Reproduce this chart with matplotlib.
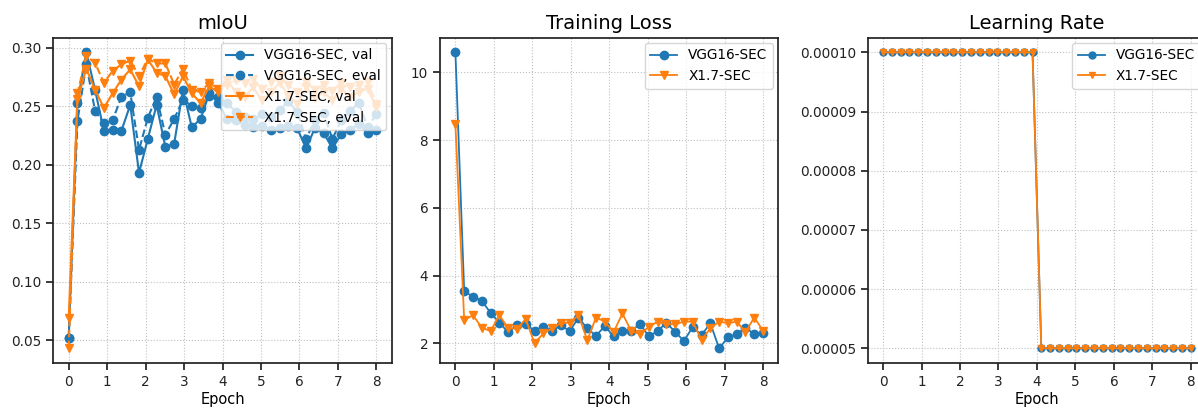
import numpy as np
import matplotlib
matplotlib.use('Agg')
import matplotlib.pyplot as plt

font = 9.8
linew = 1.5
frame = 1.25

n_pts = 36
epoch = np.linspace(0, 8, n_pts)

# mIoU
vgg_val = [0.052, 0.253, 0.296, 0.264, 0.229, 0.230, 0.229, 0.251, 0.193, 0.222,
           0.251, 0.215, 0.218, 0.264, 0.232, 0.239, 0.261, 0.253, 0.239, 0.238,
           0.234, 0.232, 0.233, 0.230, 0.231, 0.233, 0.231, 0.214, 0.231, 0.227,
           0.214, 0.226, 0.230, 0.235, 0.227, 0.230]
vgg_eval = [0.052, 0.2375, 0.2857, 0.246, 0.2355, 0.238, 0.258, 0.262, 0.2126, 0.240,
            0.258, 0.2255, 0.239, 0.2556, 0.250, 0.2485, 0.259, 0.258, 0.253, 0.245,
            0.241, 0.239, 0.243, 0.241, 0.247, 0.254, 0.245, 0.222, 0.238, 0.244,
            0.222, 0.238, 0.246, 0.253, 0.232, 0.243]
x17_val = [0.069, 0.256, 0.282, 0.264, 0.2485, 0.261, 0.2727, 0.2814, 0.267, 0.290,
           0.2785, 0.2756, 0.260, 0.2756, 0.261, 0.2527, 0.267, 0.262, 0.2727, 0.262,
           0.258, 0.266, 0.255, 0.262, 0.270, 0.259, 0.252, 0.266, 0.257, 0.262,
           0.255, 0.265, 0.258, 0.262, 0.265, 0.249]
x17_eval = [0.043, 0.261, 0.2928, 0.287, 0.270, 0.280, 0.2857, 0.289, 0.2756, 0.2905,
            0.2865, 0.2865, 0.2685, 0.282, 0.264, 0.262, 0.270, 0.265, 0.268, 0.272,
            0.270, 0.273, 0.265, 0.271, 0.276, 0.268, 0.262, 0.271, 0.264, 0.268,
            0.263, 0.270, 0.266, 0.268, 0.271, 0.252]

# training loss
vgg_loss = [10.59, 3.53, 3.38, 3.25, 2.90, 2.61, 2.32, 2.54, 2.57, 2.36,
            2.48, 2.36, 2.53, 2.36, 2.75, 2.44, 2.22, 2.51, 2.20, 2.36,
            2.36, 2.57, 2.20, 2.36, 2.61, 2.33, 2.07, 2.48, 2.24, 2.59,
            1.85, 2.17, 2.27, 2.46, 2.27, 2.29]
x17_loss = [8.46, 2.68, 2.83, 2.46, 2.36, 2.83, 2.44, 2.43, 2.71, 2.00,
            2.29, 2.44, 2.59, 2.61, 2.83, 2.09, 2.76, 2.64, 2.33, 2.88,
            2.36, 2.27, 2.48, 2.64, 2.56, 2.56, 2.64, 2.64, 2.10, 2.44,
            2.64, 2.59, 2.64, 2.33, 2.76, 2.37]

# learning rate
vgg_lr = [1e-4] * 18 + [5e-5] * 18
x17_lr = [1e-4] * 18 + [5e-5] * 18

blue = '#1f77b4'
orange = '#ff7f0e'


def style_ax(ax, title):
    ax.set_title(title, fontsize=14, pad=6)
    ax.set_xlabel('Epoch', fontsize=10.5, labelpad=2)
    ax.grid(True, linestyle=':', color='#c0c0c0', linewidth=0.8)
    ax.set_xticks(range(0, 9))
    ax.tick_params(labelsize=font, length=5, width=frame, color='#222222',
                   labelcolor='#222222')
    for s in ax.spines.values():
        s.set_linewidth(frame)
        s.set_color('#222222')


fig = plt.figure(figsize=(11.98, 4.08), dpi=100)

ax1 = fig.add_axes([0.0445, 0.110, 0.2825, 0.798])
ax1.plot(epoch, vgg_val, '-o', color=blue, lw=linew, ms=6, label='VGG16-SEC, val')
ax1.plot(epoch, vgg_eval, '--o', color=blue, lw=linew, ms=6, label='VGG16-SEC, eval')
ax1.plot(epoch, x17_val, '-v', color=orange, lw=linew, ms=6, label='X1.7-SEC, val')
ax1.plot(epoch, x17_eval, '--v', color=orange, lw=linew, ms=6, label='X1.7-SEC, eval')
ax1.set_yticks([0.05, 0.10, 0.15, 0.20, 0.25, 0.30])
style_ax(ax1, 'mIoU')
ax1.legend(loc='upper right', fontsize=font, borderaxespad=0.4, handlelength=2)

ax2 = fig.add_axes([0.3673, 0.110, 0.2825, 0.798])
ax2.plot(epoch, vgg_loss, '-o', color=blue, lw=1.3, ms=6, label='VGG16-SEC')
ax2.plot(epoch, x17_loss, '-v', color=orange, lw=1.3, ms=6, label='X1.7-SEC')
ax2.set_yticks([2, 4, 6, 8, 10])
style_ax(ax2, 'Training Loss')
ax2.legend(loc='upper right', fontsize=font, borderaxespad=0.4)

ax3 = fig.add_axes([0.7243, 0.110, 0.2825, 0.798])
ax3.plot(epoch, vgg_lr, '-o', color=blue, lw=1.3, ms=5, label='VGG16-SEC')
ax3.plot(epoch, x17_lr, '-v', color=orange, lw=1.3, ms=5, label='X1.7-SEC')
style_ax(ax3, 'Learning Rate')
ax3.legend(loc='upper right', fontsize=font, borderaxespad=0.4)

fig.savefig('out.png', dpi=100)
